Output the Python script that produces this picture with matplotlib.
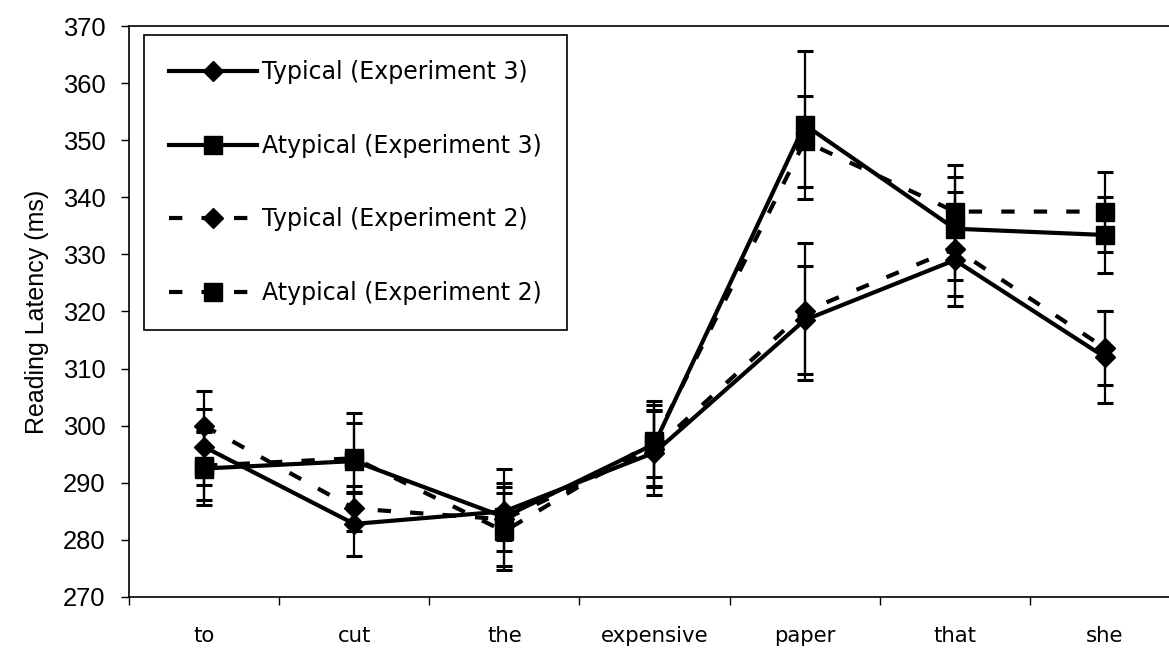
import numpy as np
import matplotlib
matplotlib.use('Agg')
import matplotlib.pyplot as plt
from matplotlib.ticker import FixedLocator

# word positions in the sentence
words = ['to', 'cut', 'the', 'expensive', 'paper', 'that', 'she']

# mean reading latencies (ms) and error bar half-widths
typical_e3 = [296.3, 282.8, 285.0, 295.3, 318.5, 329.0, 312.0]
typical_e3_err = [6.7, 5.6, 5.0, 7.4, 9.5, 6.3, 8.0]

atypical_e3 = [292.5, 293.8, 284.0, 296.8, 352.7, 334.5, 333.4]
atypical_e3_err = [6.4, 8.4, 8.5, 7.6, 13.0, 9.0, 6.6]

typical_e2 = [300.0, 285.5, 283.6, 296.0, 320.0, 331.0, 313.6]
typical_e2_err = [6.0, 3.9, 5.6, 6.5, 12.0, 10.0, 6.4]

atypical_e2 = [293.0, 294.3, 281.5, 297.3, 349.8, 337.5, 337.5]
atypical_e2_err = [6.0, 6.1, 6.8, 6.3, 8.0, 8.2, 7.0]

labels = ['Typical (Experiment 3)', 'Atypical (Experiment 3)',
          'Typical (Experiment 2)', 'Atypical (Experiment 2)']

fig = plt.figure(figsize=(11.69, 6.51), dpi=100)
ax = fig.add_axes([129 / 1169, 54 / 651, 1051 / 1169, 571 / 651])

x = np.arange(len(words))
common = dict(color='black', lw=3, elinewidth=1.6, capsize=6, capthick=2.2)

series = [
    (typical_e3, typical_e3_err, 'D', 10, '-'),
    (atypical_e3, atypical_e3_err, 's', 13, '-'),
    (typical_e2, typical_e2_err, 'D', 10, '--'),
    (atypical_e2, atypical_e2_err, 's', 13, '--'),
]

handles = []
for vals, err, mk, ms, ls in series:
    c = ax.errorbar(x, vals, yerr=err, marker=mk, ms=ms, ls=ls,
                    mfc='black', mec='black', **common)
    if ls == '--':
        c[0].set_dashes((3.2, 4.6))
    handles.append(c[0])

ax.set_xlim(-0.5, 6.5)
ax.set_ylim(270, 370)
ax.set_yticks(np.arange(270, 371, 10))
ax.set_xticks(x)
ax.set_xticklabels(words, fontfamily='DejaVu Sans', fontsize=15.3)
ax.xaxis.set_minor_locator(FixedLocator(np.arange(-0.5, 7, 1)))
ax.tick_params(axis='x', which='major', length=0, pad=21)
ax.tick_params(axis='x', which='minor', length=6, width=1, direction='out')
ax.tick_params(axis='y', length=6, width=1, direction='out', labelsize=18.4, pad=11)
for t in ax.get_yticklabels():
    t.set_fontfamily('Liberation Sans')

ax.set_ylabel('Reading Latency (ms)', fontfamily='Liberation Sans', fontsize=18, labelpad=10)

for sp in ax.spines.values():
    sp.set_linewidth(1.2)
    sp.set_color('black')

leg = ax.legend(handles, labels, loc='upper left',
                bbox_to_anchor=((144 - 129) / 1051, (597 - 35) / 571),
                prop={'family': 'DejaVu Sans', 'size': 17}, handlelength=3.73,
                handletextpad=0.2, labelspacing=2.1, borderpad=1.07,
                fancybox=False, framealpha=1, edgecolor='black', borderaxespad=0)
leg.get_frame().set_linewidth(1.2)

fig.savefig('out.png', dpi=100)
